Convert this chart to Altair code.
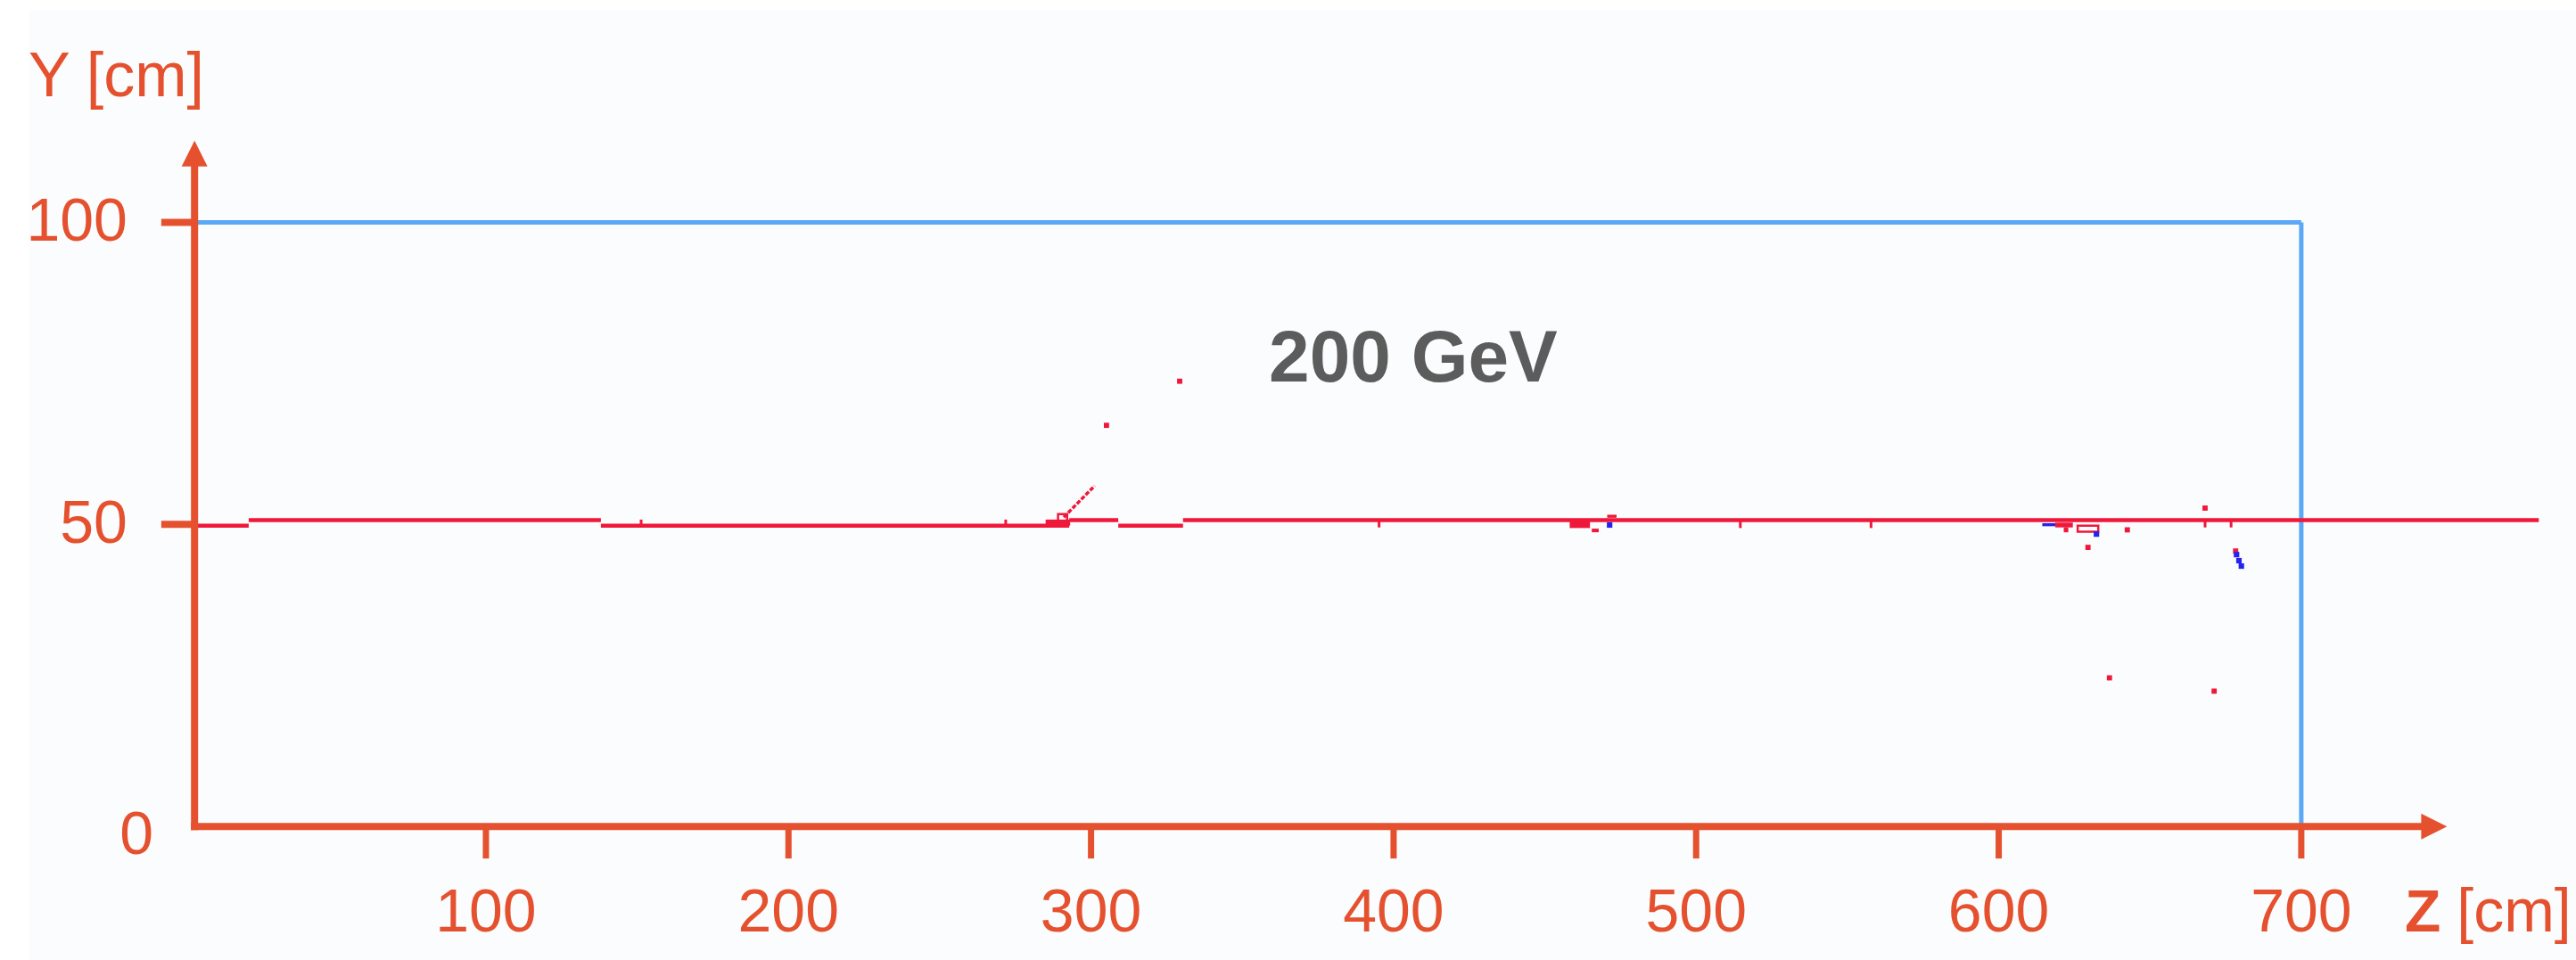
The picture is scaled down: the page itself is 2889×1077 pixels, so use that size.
import altair as alt
import pandas as pd

# ---------------- data (cm) ----------------
# beam track: horizontal red segments (Z start, Z end, Y)
beam_z1 = [3.7, 21.6, 138.0, 292.8, 309.0, 330.4]
beam_z2 = [21.6, 138.0, 292.8, 309.0, 330.4, 778.5]
beam_y = [49.8, 50.7, 49.8, 50.7, 49.8, 50.7]

# short vertical hits on the beam
hit_z = [151.3, 271.8, 395.2, 514.6, 557.8, 668.2, 676.8]
hit_y1 = [49.8, 49.8, 50.7, 50.6, 50.6, 50.6, 50.6]
hit_y2 = [50.8, 50.8, 49.5, 49.4, 49.4, 49.5, 49.5]

# filled red clusters
red_z1 = [285.0, 458.2, 465.5, 470.6, 618.7, 621.5]
red_z2 = [293.1, 464.9, 467.8, 473.7, 624.5, 623.0]
red_y1 = [49.8, 49.4, 48.7, 51.1, 49.5, 48.7]
red_y2 = [50.8, 50.5, 49.3, 51.6, 50.3, 49.5]

# filled blue cluster
blue_z1 = [614.4]
blue_z2 = [618.7]
blue_y1 = [49.7]
blue_y2 = [50.2]

# hollow red boxes
box_z1 = [289.1, 626.1]
box_z2 = [292.1, 632.9]
box_y1 = [50.6, 48.8]
box_y2 = [51.7, 49.8]

# dashed secondary track
diag_z = [291.0, 301.2]
diag_y = [51.2, 56.4]

# isolated hits
red_dot_z = [305.1, 329.3, 629.5, 642.5, 668.2, 678.3, 636.6, 671.2]
red_dot_y = [66.4, 73.7, 46.2, 49.1, 52.7, 45.6, 24.6, 22.4]
blue_dot_z = [471.4, 632.3, 678.6, 679.4, 680.2]
blue_dot_y = [49.9, 48.4, 45.0, 44.0, 43.1]

# detector outline
det_z_start = 3.7
det_z_end = 700
det_y_top = 100
det_y_bottom = 0

# axes
axis_z0 = 3.7
x_ticks = [100, 200, 300, 400, 500, 600, 700]
y_ticks = [50, 100]
x_tick_labels = ["100", "200", "300", "400", "500", "600", "700"]
y_tick_labels = ["50", "100"]
energy_label = "200 GeV"

# ---------------- styling ----------------
ORANGE = "#e5512e"
RED = "#f0183a"
BLUE = "#2424ee"
LIGHTBLUE = "#5aa8f6"
GRAY = "#5c5c5c"
FONT = "Liberation Sans"

xs = alt.Scale(domain=[-60.6, 790.8], nice=False, zero=False)
ys = alt.Scale(domain=[-22.1, 136.8], nice=False, zero=False)


def X(f):
    return alt.X(f, type="quantitative", scale=xs, axis=None)


def Y(f):
    return alt.Y(f, type="quantitative", scale=ys, axis=None)


def seg_layer(df, color, width, dash=None):
    kw = dict(color=color, strokeWidth=width, strokeCap="butt")
    if dash:
        kw["strokeDash"] = dash
    return alt.Chart(df).mark_rule(**kw).encode(
        x=X("z1"), x2=alt.X2("z2"), y=Y("y1"), y2=alt.Y2("y2")
    )


bg = alt.Chart(pd.DataFrame({"a": [0]})).mark_rect(color="#fafcfd").encode(
    x=alt.value(32), x2=alt.value(2889), y=alt.value(12), y2=alt.value(1077)
)

# detector box
det = pd.DataFrame({
    "z1": [det_z_start, det_z_end],
    "z2": [det_z_end, det_z_end],
    "y1": [det_y_top, det_y_top],
    "y2": [det_y_top, det_y_bottom],
})
det_layer = seg_layer(det, LIGHTBLUE, 5)

beam = pd.DataFrame({"z1": beam_z1, "z2": beam_z2, "y1": beam_y, "y2": beam_y})
beam_layer = seg_layer(beam, RED, 4.5)

hits = pd.DataFrame({"z1": hit_z, "z2": hit_z, "y1": hit_y1, "y2": hit_y2})
hit_layer = seg_layer(hits, RED, 3)

diag = pd.DataFrame({"z1": [diag_z[0]], "z2": [diag_z[1]], "y1": [diag_y[0]], "y2": [diag_y[1]]})
diag_layer = seg_layer(diag, RED, 3.5, dash=[5, 2])

red_rect = alt.Chart(pd.DataFrame({"z1": red_z1, "z2": red_z2, "y1": red_y1, "y2": red_y2})).mark_rect(
    color=RED).encode(x=X("z1"), x2=alt.X2("z2"), y=Y("y1"), y2=alt.Y2("y2"))
blue_rect = alt.Chart(pd.DataFrame({"z1": blue_z1, "z2": blue_z2, "y1": blue_y1, "y2": blue_y2})).mark_rect(
    color=BLUE).encode(x=X("z1"), x2=alt.X2("z2"), y=Y("y1"), y2=alt.Y2("y2"))
hollow = alt.Chart(pd.DataFrame({"z1": box_z1, "z2": box_z2, "y1": box_y1, "y2": box_y2})).mark_rect(
    fillOpacity=0, stroke=RED, strokeWidth=2.5).encode(x=X("z1"), x2=alt.X2("z2"), y=Y("y1"), y2=alt.Y2("y2"))

red_dots = alt.Chart(pd.DataFrame({"z": red_dot_z, "y": red_dot_y})).mark_square(
    color=RED, size=34, opacity=1).encode(x=X("z"), y=Y("y"))
blue_dots = alt.Chart(pd.DataFrame({"z": blue_dot_z, "y": blue_dot_y})).mark_square(
    color=BLUE, size=38, opacity=1).encode(x=X("z"), y=Y("y"))

# axes lines
axes = pd.DataFrame({
    "z1": [axis_z0, 2.5],
    "z2": [axis_z0, 740.0],
    "y1": [-0.6, 0],
    "y2": [109.4, 0],
})
axes_layer = seg_layer(axes, ORANGE, 8)

xt = pd.DataFrame({"z1": x_ticks, "z2": x_ticks, "y1": [0] * len(x_ticks), "y2": [-5.3] * len(x_ticks)})
xt_layer = seg_layer(xt, ORANGE, 7)
yt = pd.DataFrame({"z1": [-7.3] * len(y_ticks), "z2": [axis_z0] * len(y_ticks), "y1": y_ticks, "y2": y_ticks})
yt_layer = seg_layer(yt, ORANGE, 8)

arrow_up = alt.Chart(pd.DataFrame({"z": [axis_z0], "y": [111.4]})).mark_point(
    shape="M0,-1L1,1L-1,1Z", filled=True, color=ORANGE, size=841, opacity=1).encode(x=X("z"), y=Y("y"))
arrow_right = alt.Chart(pd.DataFrame({"z": [743.9], "y": [0]})).mark_point(
    shape="M-1,-1L1,0L-1,1Z", filled=True, color=ORANGE, size=841, opacity=1).encode(x=X("z"), y=Y("y"))

# labels
xl = alt.Chart(pd.DataFrame({"z": x_ticks, "y": [-17.4] * len(x_ticks), "t": x_tick_labels})).mark_text(
    font=FONT, fontSize=68, color=ORANGE, align="center", baseline="alphabetic").encode(
    x=X("z"), y=Y("y"), text="t:N")
yl = alt.Chart(pd.DataFrame({"z": [-18.5] * len(y_ticks), "y": y_ticks, "t": y_tick_labels})).mark_text(
    font=FONT, fontSize=68, color=ORANGE, align="right", baseline="alphabetic", dy=21).encode(
    x=X("z"), y=Y("y"), text="t:N")
y0 = alt.Chart(pd.DataFrame({"z": [-9.9], "y": [0], "t": ["0"]})).mark_text(
    font=FONT, fontSize=68, color=ORANGE, align="right", baseline="alphabetic", dy=31).encode(
    x=X("z"), y=Y("y"), text="t:N")
ytitle = alt.Chart(pd.DataFrame({"z": [-51.2], "y": [120.9], "t": ["Y [cm]"]})).mark_text(
    font=FONT, fontSize=70, color=ORANGE, align="left", baseline="alphabetic").encode(
    x=X("z"), y=Y("y"), text="t:N")
ztitle_z = alt.Chart(pd.DataFrame({"z": [734.2], "y": [-17.4], "t": ["Z"]})).mark_text(
    font=FONT, fontSize=66, fontWeight="bold", color=ORANGE, align="left", baseline="alphabetic").encode(
    x=X("z"), y=Y("y"), text="t:N")
ztitle_cm = alt.Chart(pd.DataFrame({"z": [751.4], "y": [-17.4], "t": ["[cm]"]})).mark_text(
    font=FONT, fontSize=68, color=ORANGE, align="left", baseline="alphabetic").encode(
    x=X("z"), y=Y("y"), text="t:N")
energy = alt.Chart(pd.DataFrame({"z": [358.8], "y": [73.65], "t": [energy_label]})).mark_text(
    font=FONT, fontSize=82, fontWeight="bold", color=GRAY, align="left", baseline="alphabetic").encode(
    x=X("z"), y=Y("y"), text="t:N")

chart = alt.layer(
    bg, det_layer, beam_layer, hit_layer, diag_layer, red_rect, blue_rect, hollow,
    red_dots, blue_dots, axes_layer, xt_layer, yt_layer, arrow_up, arrow_right,
    xl, yl, y0, ytitle, ztitle_z, ztitle_cm, energy,
).properties(
    width=2889, height=1077,
    autosize=alt.AutoSizeParams(type="none"),
    padding=0,
    background="white",
).configure_view(stroke=None)

chart.save("out.html", embed_options={"renderer": "svg", "actions": False})
